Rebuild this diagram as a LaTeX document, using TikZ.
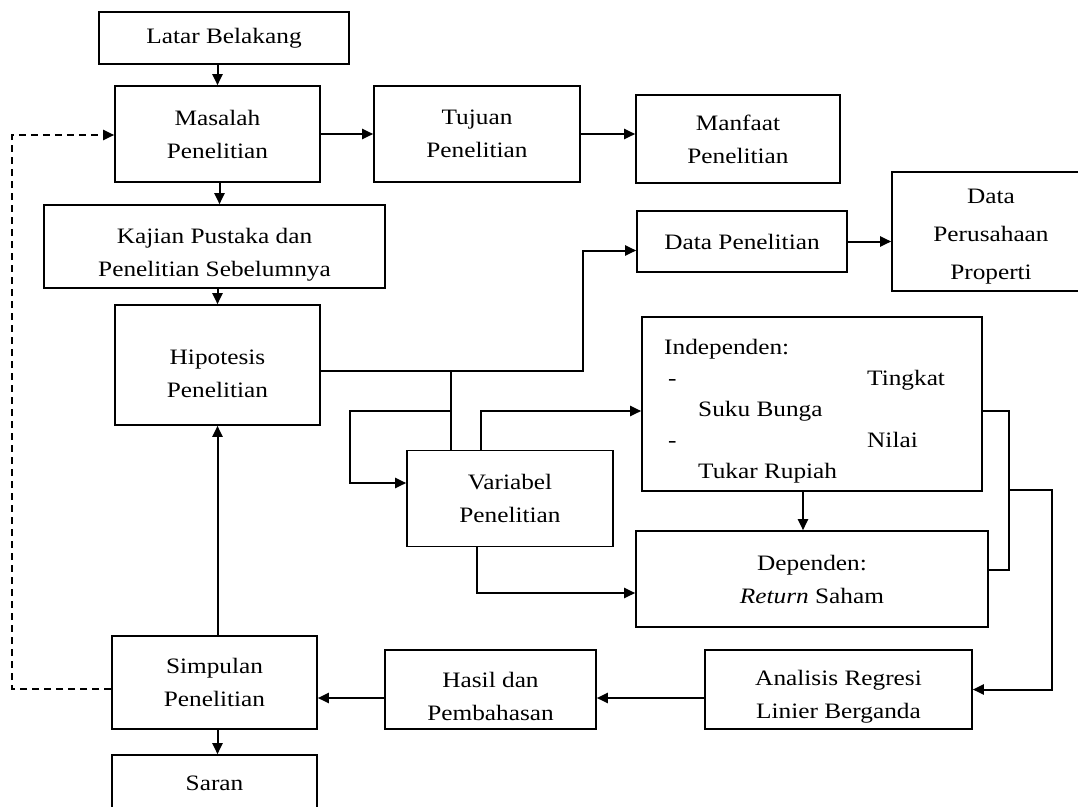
\documentclass[tikz,border=0pt]{standalone}
\usepackage{fontspec}
\setmainfont[FakeStretch=1.15]{Liberation Serif}
\usetikzlibrary{arrows.meta}
\begin{document}
\begin{tikzpicture}[x=1pt,y=-1pt,
  txt/.style={align=center, font=\fontsize{22}{33}\selectfont},
  box/.style={draw, line width=1.6pt, txt, inner sep=2pt},
  conn/.style={line width=2pt},
  arr/.style={conn, -{Triangle[length=11pt,width=10pt]}},
  dashconn/.style={arr, dash pattern=on 7pt off 5pt}]
\clip (0,0) rectangle (1078,806);
\useasboundingbox (0,0) rectangle (1078,806);
\fill[white] (0,0) rectangle (1078,806);

\node[box, minimum width=250, minimum height=52] (latar) at (224,38) {Latar Belakang};
\node[box, minimum width=205, minimum height=96] (masalah) at (217.5,134) {Masalah\\Penelitian};
\node[box, minimum width=206, minimum height=96] (tujuan) at (477,134) {Tujuan\\Penelitian};
\node[box, minimum width=204, minimum height=88] (manfaat) at (738,139) {Manfaat\\Penelitian};
\node[box, minimum width=341, minimum height=83,
  label={[txt, yshift=-8pt]center:Kajian Pustaka dan\\Penelitian Sebelumnya}] (kajian) at (214.5,246.5) {};
\node[box, minimum width=210, minimum height=61] (datapen) at (742,241.5) {Data Penelitian};
\node[box, minimum width=198, minimum height=119,
  label={[txt, font=\fontsize{22}{38}\selectfont, yshift=-5pt]center:Data\\Perusahaan\\Properti}] (dataper) at (991,231.5) {};
\node[box, minimum width=205, minimum height=120,
  label={[txt, yshift=-9pt]center:Hipotesis\\Penelitian}] (hipotesis) at (217.5,365) {};
\node[box, minimum width=340, minimum height=174] (indep) at (812,404) {};
\node[anchor=base west, inner sep=0, align=left, font=\fontsize{22}{31}\selectfont] (indeptext) at (664,478)
  {Independen:\\\makebox[203pt][l]{\hspace{4pt}-}Tingkat\\\hspace*{34pt}Suku Bunga\\\makebox[203pt][l]{\hspace{4pt}-}Nilai\\\hspace*{34pt}Tukar Rupiah};
\node[box, minimum width=206, minimum height=96] (variabel) at (510,498.5) {Variabel\\Penelitian};
\node[box, minimum width=352, minimum height=96] (dependen) at (812,579) {Dependen:\\\textit{Return} Saham};
\node[box, minimum width=205, minimum height=93] (simpulan) at (214.5,682.5) {Simpulan\\Penelitian};
\node[box, minimum width=205, minimum height=56] (saran) at (214.5,783) {Saran};
\node[box, minimum width=211, minimum height=79,
  label={[txt, yshift=-7pt]center:Hasil dan\\Pembahasan}] (hasil) at (490.5,689.5) {};
\node[box, minimum width=267, minimum height=79,
  label={[txt, yshift=-7pt]center:Analisis Regresi\\Linier Berganda}] (analisis) at (838.5,689.5) {};

% top chain
\draw[arr] (masalah.north |- latar.south) -- (masalah.north);
\draw[arr] (masalah.east) -- (tujuan.west);
\draw[arr] (tujuan.east) -- (manfaat.west |- tujuan.east);
\draw[arr] ([xshift=2pt]masalah.south) -- ([xshift=2pt]masalah.south |- kajian.north);
\draw[arr] (hipotesis.north |- kajian.south) -- (hipotesis.north);

% hipotesis to data / variabel
\coordinate (j1) at (451,371);
\coordinate (k1) at (583,371);
\coordinate (j2) at (451,411);
\coordinate (l2) at (350,411);
\draw[arr] (hipotesis.east |- j1) -- (k1) |- ([yshift=-9pt]datapen.west);
\draw[conn] (j1) -- (variabel.north -| j1);
\draw[arr] (j2) -- (l2) |- ([yshift=15.5pt]variabel.west);
\draw[arr] (datapen.east) -- (dataper.west |- datapen.east);

% variabel to independen / dependen
\coordinate (v1) at (481,411);
\coordinate (v2) at (477,593);
\draw[arr] (variabel.north -| v1) -- (v1) -- (indep.west |- v1);
\draw[arr] (variabel.south -| v2) -- (v2) -- (dependen.west |- v2);
\draw[arr] ([xshift=-9pt]indep.south) -- ([xshift=-9pt]dependen.north);

% right bracket to analisis
\coordinate (r1) at (1009,411);
\coordinate (r2) at (1009,570);
\coordinate (r3) at (1009,490);
\coordinate (r4) at (1052,490);
\draw[conn] (indep.east |- r1) -- (r1) -- (r2) -- (dependen.east |- r2);
\draw[arr] (r3) -- (r4) |- (analisis.east);

% bottom chain
\coordinate (h) at (0,698);
\draw[arr] (analisis.west |- h) -- (hasil.east |- h);
\draw[arr] (hasil.west |- h) -- (simpulan.east |- h);
\draw[arr] (hipotesis.south |- simpulan.north) -- (hipotesis.south);
\draw[arr] (hipotesis.south |- simpulan.south) -- (hipotesis.south |- saran.north);

% dashed feedback
\coordinate (d1) at (12,689);
\coordinate (d2) at (12,135);
\draw[dashconn] (simpulan.west |- d1) -- (d1) -- (d2) -- (masalah.west |- d2);
\end{tikzpicture}
\end{document}
